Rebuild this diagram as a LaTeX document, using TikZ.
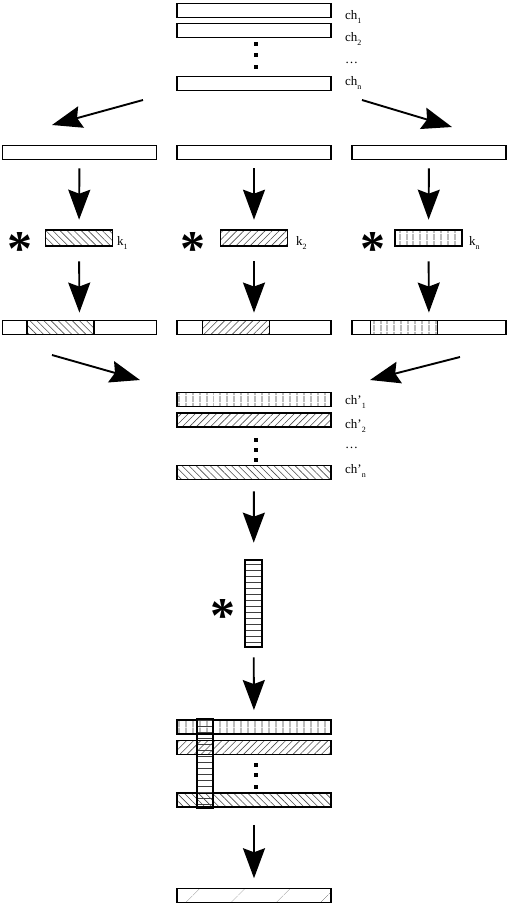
\documentclass[tikz,border=0pt]{standalone}
\usepackage{fontspec}
\setmainfont{Liberation Serif}
\usetikzlibrary{arrows.meta,patterns.meta}

\newcommand\lowsub[1]{\raisebox{-4pt}{\fontsize{8}{8}\selectfont #1}}

\tikzset{
	bar/.style={draw, line width=1.9pt, minimum width=154pt, minimum height=14pt, inner sep=0pt},
	kern/.style={draw, line width=1.9pt, minimum width=67pt, minimum height=16pt, inner sep=0pt},
	part/.style={draw, line width=1.9pt, minimum width=67pt, minimum height=14pt, inner sep=0pt},
	big/.style={-{Stealth[length=30pt,width=22pt,inset=4pt]}, line width=1.9pt},
	lbl/.style={anchor=base west, inner sep=0pt, font=\fontsize{13}{13}\selectfont},
	ast/.style={inner sep=0pt, font=\fontsize{50}{50}\selectfont\bfseries},
	vdot/.style={fill, minimum size=3.5pt, inner sep=0pt},
	nwl/.style={pattern={Lines[angle=-45,distance=5pt,line width=0.6pt]}, pattern color=black!70},
	nel/.style={pattern={Lines[angle=45,distance=5pt,line width=0.6pt]}, pattern color=black!70},
	vl/.style={pattern={Lines[angle=90,distance=6.5pt,line width=0.7pt]}, pattern color=black!75},
	hl/.style={pattern={Lines[angle=0,distance=6pt,line width=0.7pt]}, pattern color=black!75},
	sparse/.style={pattern={Lines[angle=45,distance=32pt,line width=0.5pt]}, pattern color=black!70}
}

\begin{document}
\begin{tikzpicture}[x=1pt,y=-1pt]

	\useasboundingbox (0,0) rectangle (508,906);

	% input channels
	\node (C1)[bar] at (254,10.5) {};
	\node (C2)[bar] at (254,30.5) {};
	\node (Cn)[bar] at (254,83.5) {};
	\foreach \y in {44,55,67} \node[vdot] at (256,\y) {};
	\node (LC1)[lbl] at (345,19) {ch\lowsub{1}};
	\node (LC2)[lbl] at (345,41) {ch\lowsub{2}};
	\node (LC3)[lbl] at (345,63) {…};
	\node (LCn)[lbl] at (345,85) {ch\lowsub{n}};

	\coordinate (SL) at (143,100);
	\coordinate (TL) at (52,125);
	\coordinate (SR) at (362,100);
	\coordinate (TR) at (452,127);
	\draw [big] (SL) to (TL);
	\draw [big] (SR) to (TR);

	% split
	\node (M1)[bar] at (79.5,152.5) {};
	\node (M2)[bar] at (254,152.5) {};
	\node (Mn)[bar] at (429,152.5) {};

	\node (K1)[kern,nwl] at (79,238) {};
	\node (K2)[kern,nel] at (254,238) {};
	\node (Kn)[kern,vl] at (428.5,238) {};
	\node (S1)[ast] at (20,249) {*};
	\node (S2)[ast] at (193,249) {*};
	\node (Sn)[ast] at (373,249) {*};
	\node (LK1)[lbl] at (117,245) {k\lowsub{1}};
	\node (LK2)[lbl] at (296,245) {k\lowsub{2}};
	\node (LKn)[lbl] at (469,245) {k\lowsub{n}};

	\draw [big, shorten <=8pt, shorten >=10pt] (M1) to (K1);
	\draw [big, shorten <=8pt, shorten >=10pt] (M2) to (K2);
	\draw [big, shorten <=8pt, shorten >=10pt] (Mn) to (Kn);

	\node (B1)[bar] at (79.5,327.5) {};
	\node (B2)[bar] at (254,327.5) {};
	\node (Bn)[bar] at (429,327.5) {};
	\node (P1)[part,nwl] at (60.5,327.5) {};
	\node (P2)[part,nel] at (236,327.5) {};
	\node (Pn)[part,vl] at (404,327.5) {};

	\draw [big, shorten <=15pt, shorten >=7pt] (K1) to (B1);
	\draw [big, shorten <=15pt, shorten >=7pt] (K2) to (B2);
	\draw [big, shorten <=15pt, shorten >=7pt] (Kn) to (Bn);

	\coordinate (UL) at (52,355);
	\coordinate (VL) at (140,380);
	\coordinate (UR) at (460,357);
	\coordinate (VR) at (370,380);
	\draw [big] (UL) to (VL);
	\draw [big] (UR) to (VR);

	% output channels
	\node (D1)[bar,vl] at (254,399.5) {};
	\node (D2)[bar,nel] at (254,420) {};
	\node (Dn)[bar,nwl] at (254,472.5) {};
	\foreach \y in {440,450,460} \node[vdot] at (256,\y) {};
	\node (LD1)[lbl] at (345,404) {ch’\lowsub{1}};
	\node (LD2)[lbl] at (345,428) {ch’\lowsub{2}};
	\node (LD3)[lbl] at (345,448) {…};
	\node (LDn)[lbl] at (345,473) {ch’\lowsub{n}};

	% pointwise kernel
	\node (V)[draw, line width=1.9pt, minimum width=17pt, minimum height=87pt, inner sep=0pt, hl] at (253.5,603.5) {};
	\node (SV)[ast] at (223,616) {*};
	\draw [big, shorten <=11pt, shorten >=17pt] (Dn) to (V);

	\node (E1)[bar,vl] at (254,727) {};
	\node (E2)[bar,nel] at (254,747.5) {};
	\node (En)[bar,nwl] at (254,800) {};
	\foreach \y in {765,775,787} \node[vdot] at (256,\y) {};
	\node (W)[draw, line width=1.9pt, minimum width=16pt, minimum height=89pt, inner sep=0pt, hl] at (205,763.5) {};
	\draw [big, shorten <=10pt, shorten >=9pt] (V) to (E1);

	\node (F)[bar,sparse] at (254,895.5) {};
	\draw [big, shorten <=17pt, shorten >=10pt] (En) to (F);

\end{tikzpicture}
\end{document}
